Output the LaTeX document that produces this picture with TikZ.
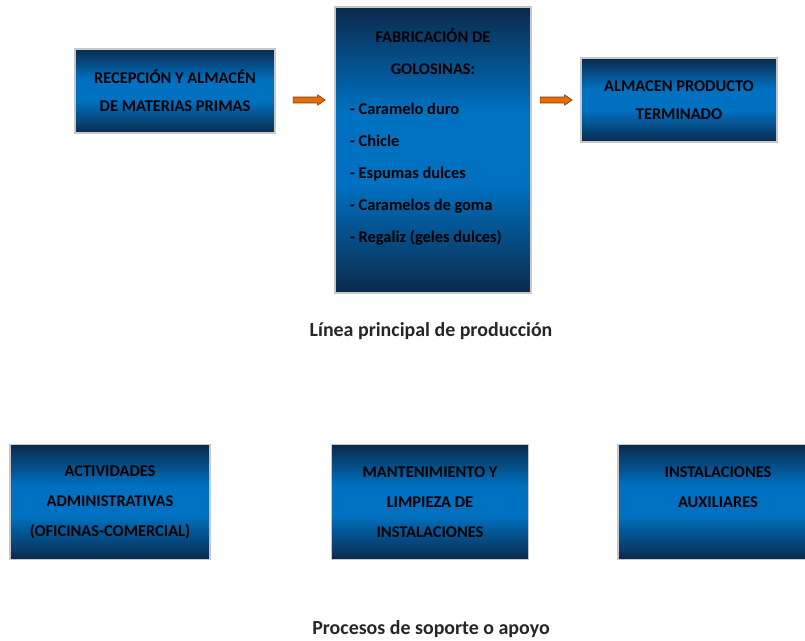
\documentclass[tikz,border=0pt]{standalone}
\usepackage{fontspec}
\setmainfont{Carlito}
\usetikzlibrary{shapes.arrows}
\definecolor{navy}{HTML}{0B2A4C}
\definecolor{azul}{HTML}{0070C0}
\definecolor{naranja}{HTML}{E46C0A}
\definecolor{naranjaborde}{HTML}{7A3A05}
\pgfdeclareverticalshading{cajashade}{100bp}{color(0bp)=(navy); color(25bp)=(navy); color(44bp)=(azul); color(57bp)=(azul); color(75bp)=(navy); color(100bp)=(navy)}
\tikzset{caja/.style={rectangle, shading=cajashade, draw=black!22, line width=0.9pt, align=center, inner sep=2pt, text=black, font=\bfseries\fontsize{14}{24}\selectfont},
  cajabaja/.style={caja, minimum height=3.45cm, font=\bfseries\fontsize{14}{25.5}\selectfont},
  flecha/.style={single arrow, fill=naranja, draw=naranjaborde, line width=0.5pt, inner xsep=0pt, inner ysep=0.08cm, minimum height=0.96cm, single arrow head extend=0.07cm, single arrow tip angle=70},
  titulo/.style={font=\bfseries\fontsize{17}{19}\selectfont, text=black!85}}

\begin{document}
\begin{tikzpicture}[x=0.03cm, y=-0.03cm]
  \clip (0,0) rectangle (805,641);
  \fill[white] (0,0) rectangle (805,641);
  % linea principal
  \node[caja, minimum width=6cm, minimum height=2.52cm] (rec) at (175,91) {RECEPCIÓN Y ALMACÉN\\DE MATERIAS PRIMAS};
  \node[caja, minimum width=5.88cm, minimum height=8.58cm, text width=4.98cm, align=left, font=\bfseries\fontsize{14}{27.5}\selectfont] (fab) at (433,150)
    {\spaceskip=0pt\xspaceskip=0pt
     \makebox[4.98cm][c]{FABRICACIÓN DE}\\\makebox[4.98cm][c]{GOLOSINAS:}\\[6.5pt]
     - Caramelo duro\\- Chicle\\- Espumas dulces\\- Caramelos de goma\\- Regaliz (geles dulces)\\[-3pt]\mbox{}};
  \node[caja, minimum width=5.88cm, minimum height=2.52cm] (alm) at (679,100) {ALMACEN PRODUCTO\\TERMINADO};
  \node[flecha] (f1) at (307,100) {};
  \node[flecha] (f2) at (554,100) {};
  \node[titulo] (lin) at (431,331) {Línea principal de producción};
  % soporte
  \node[cajabaja, minimum width=6cm] (adm) at (110,502) {ACTIVIDADES\\ADMINISTRATIVAS\\(OFICINAS-COMERCIAL)};
  \node[cajabaja, minimum width=5.91cm] (man) at (430,502) {MANTENIMIENTO Y\\LIMPIEZA DE\\INSTALACIONES};
  \node[cajabaja, minimum width=6cm] (aux) at (718,502) {INSTALACIONES\\AUXILIARES\\\mbox{}};
  \node[titulo] (sop) at (431,629) {Procesos de soporte o apoyo};
\end{tikzpicture}
\end{document}
